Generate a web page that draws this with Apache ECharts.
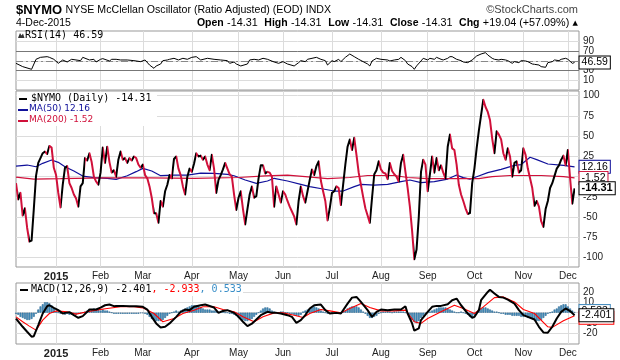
<!DOCTYPE html>
<html><head><meta charset="utf-8">
<script src="https://cdn.jsdelivr.net/npm/echarts@6/dist/echarts.min.js"></script>
<style>html,body{margin:0;padding:0;background:#fff}#c{width:620px;height:360px}</style>
</head><body><div id="c"></div>
<script>
// ---------- categories (trading days) ----------
const startDate = '2014-12-05';
const endDate = '2015-12-04';
const holidays = ['2014-12-25','2015-01-01','2015-01-19','2015-02-16','2015-04-03','2015-05-25','2015-07-03','2015-09-07','2015-11-26'];
const monthNames = ['Jan','Feb','Mar','Apr','May','Jun','Jul','Aug','Sep','Oct','Nov','Dec'];

// ---------- series values ----------
const nymo = [-8,-28,-20,-48,-39,-63,-80,-79,-40,1,
 17,23,29,31,28,38,36,11,2,-20,
 -38,-10,11,13,-8,-14,-22,-27,-37,-12,
 -8,23,20,29,18,0,-6,-10,5,36,
 17,37,18,5,8,0,21,31,21,23,
 17,23,20,25,23,15,11,15,2,-2,
 -12,-26,-45,-45,-57,-30,-37,-18,-10,2,
 -2,22,25,10,2,-12,-22,0,10,6,
 16,29,25,26,21,25,15,8,27,10,
 -20,-4,2,9,17,10,3,0,-22,-41,
 -26,-18,-40,-59,-40,-22,-12,-26,-24,-2,
 14,14,4,6,5,0,-37,-12,-22,-32,
 -18,-22,-30,-37,-43,-49,-59,-30,-12,-24,
 -32,-18,-4,9,2,13,19,-5,-18,-30,
 -54,-39,-20,-18,-12,-14,-35,-10,15,37,
 46,33,48,27,5,-10,-25,-39,-48,-57,
 -26,3,8,19,9,5,4,-3,17,7,
 3,0,-6,17,27,6,-14,-37,-67,-102,
 -90,-50,6,21,15,-18,3,25,5,23,
 8,14,5,-2,37,52,35,33,15,-10,
 -22,-30,-39,-46,-45,-8,10,35,57,76,
 95,86,80,70,47,29,56,52,46,29,
 21,35,25,0,17,19,5,8,35,27,
 10,-2,-14,-36,-30,-37,-55,-62,-40,-30,
 -14,-8,1,10,14,21,26,14,33,-2,
 -33.35,-14.31];

// [trading-day index, value]
const ma50 = [[0,13],[5,14.4],[9,12.3],[12,16.5],[16,20.6],[19,17.7],[22,12.3],[26,7],[30,0.8],[35,-1.2],[41,-2],[45,-3.3],[50,1.2],[54,6.2],[57,10.3],[61,7],[65,1.2],[71,2],[77,2],[83,4.5],[89,4.1],[95,2.9],[98,1.2],[103,-4.1],[108,-8.2],[113,-5.3],[116,-2],[122,-5.3],[128,-9.5],[132,-12.3],[138,-15.2],[143,-17.7],[147,-17.7],[152,-12.3],[155,-9.5],[161,-10.3],[167,-9.5],[173,-6.2],[177,-4.1],[182,-7.4],[188,-6],[194,-2.9],[198,2],[201,-1.2],[204,-3],[207,0],[212,5],[218,9],[224,14],[227,15],[231,24],[234,21],[239,15.7],[246,14],[251,12.16]];
const ma200 = [[0,-0.5],[8,-3],[20,-2.5],[40,-1.5],[60,-1.5],[80,-2],[100,-1],[112,1],[122,2],[130,0],[140,-2.5],[150,-1],[158,1.5],[170,1.5],[176,-1],[185,-2.5],[200,-2.5],[208,-2.5],[214,0],[222,1.5],[236,1.5],[246,0],[251,-1.52]];
const rsi = [[0,44.9],[3,38],[7,32.4],[9,53.3],[11,57.4],[14,58.8],[15,57.4],[17,53.3],[19,44.9],[21,51.9],[23,47.7],[25,53.3],[29,50.5],[30,57.4],[33,51.9],[35,53.3],[36,47.7],[38,53.3],[39,54.7],[42,49.8],[43,53.3],[45,53.3],[47,51.9],[50,51.9],[53,50.5],[56,48.4],[58,51.9],[60,41.4],[62,34.5],[63,39.4],[65,43.5],[66,50.5],[68,51.9],[69,53.3],[71,55.4],[73,51.9],[75,55.4],[77,53.3],[79,57.4],[81,58.8],[83,51.9],[86,55.4],[89,53.3],[92,51.9],[95,50.5],[96,44.9],[98,47.7],[99,43.5],[101,39.4],[104,43.5],[105,51.9],[107,53.3],[109,51.9],[111,55.4],[113,53.3],[116,47.7],[118,44.9],[120,48.4],[122,43.5],[125,39.4],[127,46.3],[128,50.5],[130,48.4],[131,53.3],[135,57.4],[137,53.3],[139,50.5],[140,41.4],[142,50.5],[143,48.4],[145,53.3],[146,48.4],[148,57.4],[150,64.4],[152,58.8],[154,53.3],[156,48.4],[158,43.5],[159,39.4],[160,49.8],[162,55.4],[164,53.3],[167,51.9],[168,49.8],[170,51.9],[172,53.3],[173,57.4],[175,50.5],[176,43.5],[178,38],[179,32.4],[180,39.4],[182,49.8],[183,55.4],[185,51.9],[186,55.4],[188,53.3],[189,57.4],[191,53.3],[192,51.9],[194,55.4],[195,58.8],[196,58.8],[198,53.3],[200,50.5],[201,47.7],[203,46.3],[205,51.9],[207,60.2],[209,64.4],[211,67.2],[212,62.3],[214,55.4],[215,53.3],[217,51.9],[218,53.3],[220,51.9],[221,50.5],[223,44.9],[224,48.4],[226,46.3],[227,50.5],[229,49.8],[230,48.4],[232,43.5],[233,42.8],[235,41.4],[236,38],[238,36.6],[239,46.3],[241,48.4],[242,51.9],[244,50.5],[245,53.3],[247,55.4],[248,53.3],[250,44.9],[251,46.59]];
const macd = [[0,-5.6],[3,-13.5],[5,-18.3],[7,-23],[8,-22.5],[10,-11.9],[12,-0.8],[14,6.2],[15,7.1],[17,4.6],[19,2.4],[21,-0.8],[22,-0.2],[24,0.5],[26,-2.4],[28,-4.9],[30,-3.3],[32,0.8],[33,3],[36,3],[38,4.9],[40,7.1],[42,7.8],[44,6.2],[45,6.5],[48,6.5],[51,6.2],[54,6.2],[57,5.6],[59,3],[61,-4],[63,-10.3],[65,-14.1],[67,-13.5],[69,-10.3],[72,-4],[74,0.8],[76,3],[78,2.4],[80,5.6],[83,7.1],[85,7.8],[86,7.1],[89,4.9],[91,-0.2],[93,1.7],[95,2.4],[98,-0.2],[100,-4],[102,-8.7],[104,-12.9],[106,-10.6],[108,-6.5],[110,-2.4],[113,0.8],[115,-0.2],[117,-0.2],[119,-0.8],[122,-2.4],[124,-4],[126,-9.7],[128,-7.1],[130,-2.4],[132,4],[134,7.1],[137,7.8],[139,2.4],[141,-0.8],[144,-0.2],[146,-0.8],[149,8.7],[151,14.4],[153,15.1],[155,10.3],[158,2.4],[160,-4],[162,0.8],[164,3],[167,2.4],[170,3],[173,3],[175,6.2],[176,-0.8],[178,-10.3],[179,-17.3],[181,-15.1],[182,-7.1],[185,0.8],[187,5.6],[189,6.5],[191,6.5],[194,8.1],[196,11.9],[198,13.5],[200,7.1],[203,-0.8],[205,-4.9],[206,-4],[208,2.4],[209,11.9],[212,19.8],[213,22],[215,18.3],[217,15.1],[219,14.4],[221,12.5],[224,8.7],[226,2.4],[228,-2.4],[230,-4],[233,-6.5],[235,-13.5],[237,-18.9],[239,-19.2],[241,-13.5],[243,-5.6],[245,0.8],[247,4],[249,1.5],[251,-2.401]];
const signal = [[0,-4],[3,-8.7],[6,-12.9],[9,-16.7],[12,-7.1],[15,-0.8],[18,1.7],[23,0.8],[27,-1.4],[32,0.8],[36,2.4],[41,4],[47,5.6],[53,5.6],[57,4.6],[62,-0.8],[66,-8.7],[71,-5.6],[75,-0.8],[80,2.4],[84,5.6],[89,5.6],[93,3],[98,0.8],[102,-4],[107,-8.7],[111,-4],[116,-0.2],[120,-0.2],[125,-2.4],[129,-4.6],[132,-0.8],[137,3],[141,1.7],[146,-0.2],[150,4],[155,8.7],[159,4.9],[164,1.7],[170,1.7],[175,2.4],[179,-8.7],[182,-10.3],[185,-5.6],[191,0.8],[197,7.1],[201,4],[206,-0.8],[210,5.6],[215,14.4],[219,15.1],[224,10.3],[228,3],[233,-0.8],[239,-13.5],[241,-14.1],[246,-7.8],[251,-2.933]];
const hist = [-1,-2,-4,-5,-6,-7,-7,-6,-4,
 -1,3,6,8,10,10,9,7,4,1,
 0,-1,-1,-2,-1,-2,-2,-1,-2,-1,-1,0,
 1,2,3,3,4,3,3,2,3,2,2,1,
 0,-1,-1,-1,-1,-1,-1,-1,-1,-1,-1,-1,-1,-0.5,-0.5,
 -1,-2,-4,-6,-7,-8,-8,-8,-7,-5,-3,
 -1,0,1,2,1,2,
 3,4,5,6,7,7,7,6,5,4,3,3,
 3,2,2,2,1,1,1,0,0,-1,-1,
 -2,-3,-5,-6,-7,-8,-8,-7,-6,-4,-2,
 0,2,4,5,5,4,2,
 1,0,0,1,1,0,0,-1,-1,
 -2,-3,-3,-2,
 1,2,3,4,5,6,5,4,
 2,1,0,-1,-1,0,-1,-1,0,0,1,
 2,4,5,6,6,6,5,3,1,-1,
 -3,-5,-5,-4,-3,-1,
 0,1,1,1,1,0,1,1,1,1,1,0,-1,-3,
 -7,-9,-10,-8,-5,
 -3,-1,0,1,2,
 3,4,5,5,5,5,4,3,2,1,
 0,0,1,0,-1,-2,
 -4,-4,-2,
 1,3,4,5,5,4,3,2,
 1,1,0,
 -1,-1,-2,-2,-2,-3,-3,-3,-3,-4,-4,-4,-5,-5,-6,-7,-8,-8,
 -7,-5,-3,-1,0,
 1,3,4,6,7,8,8,6,4,
 2,0.533];

// ---------- tick labels ----------
const rsiTicks = [10,30,50,70,90];
const mainTicks = [-100,-75,-50,-25,0,25,50,75,100];
const macdTicks = [-20,-10,0,10,20];

// ---------- build ----------
function tradingDays(){
  const out=[]; let d=new Date(startDate+'T00:00:00Z'); const end=new Date(endDate+'T00:00:00Z');
  while(d<=end){
    const dow=d.getUTCDay(); const s=d.toISOString().slice(0,10);
    if(dow!==0 && dow!==6 && holidays.indexOf(s)<0) out.push(s);
    d=new Date(d.getTime()+86400000);
  }
  return out;
}
const dates = tradingDays();
const categories = dates.concat(['','']);
const monthStart = categories.map((s,i)=> i>0 && !!s && !!categories[i-1] && s.slice(5,7)!==categories[i-1].slice(5,7));
function fmtMonth(v){ if(!v) return ''; const m=+v.slice(5,7); return m===1 ? '{b|'+v.slice(0,4)+'}' : monthNames[m-1]; }

const nymoData = nymo.map((v,i)=>[i,v]);
const pieces = [];
for(let i=0;i<nymo.length-1;i++){
  const p = {gte:i, color: nymo[i+1]>=nymo[i] ? '#000000' : '#d0103a'};
  if(i===nymo.length-2) p.lte=i+1; else p.lt=i+1;
  pieces.push(p);
}

function xAx(gi, showLabel){
  return {type:'category', gridIndex:gi, data:categories, boundaryGap:false,
    axisLine:{show:false}, axisTick:{show:false},
    axisLabel:{show:showLabel, interval:(i)=>monthStart[i], formatter:fmtMonth, fontSize:10, fontFamily:'Arial', color:'#222', margin:4,
      rich:{b:{fontWeight:'bold', fontSize:11, fontFamily:'Arial', color:'#222'}}},
    splitLine:{show:true, interval:(i)=>monthStart[i], lineStyle:{color:'#dcdcdc'}}};
}
function yAx(gi, min, max, ticks){
  // min/max placeholders are hidden so every real tick label stays visible
  const labelVals = [min].concat(ticks, [max]);
  return {type:'value', gridIndex:gi, position:'right', min:min, max:max,
    axisLine:{show:false}, axisTick:{show:false, customValues:ticks},
    axisLabel:{customValues:labelVals, showMinLabel:false, showMaxLabel:false, fontSize:10, fontFamily:'Arial', color:'#222', margin:4},
    splitLine:{show:true, lineStyle:{color:'#dcdcdc'}}};
}
function box(text, color, bold, dy){
  return {show:true, formatter:text, distance:5, offset:[0,dy||0], color:'#000', fontSize:bold?11:10.5, fontWeight:bold?'bold':'normal', fontFamily:'Arial',
    backgroundColor:'#fff', borderColor:color, borderWidth:1, padding:[1,2,0,2]};
}

const option = {
  animation:false,
  backgroundColor:'#fff',
  grid:[
    {left:16, top:31, width:563, height:59, show:true, borderColor:'#999', borderWidth:1},
    {left:16, top:91, width:563, height:176, show:true, borderColor:'#999', borderWidth:1},
    {left:16, top:283, width:563, height:61, show:true, borderColor:'#999', borderWidth:1}
  ],
  xAxis:[xAx(0,false), xAx(1,true), xAx(2,true)],
  yAxis:[yAx(0,-10.8,112.4,rsiTicks), yAx(1,-111.5,105.8,mainTicks), yAx(2,-30,28.4,macdTicks)],
  visualMap:[{type:'piecewise', show:false, dimension:0, seriesIndex:1, pieces:pieces}],
  series:[
    {type:'line', xAxisIndex:0, yAxisIndex:0, data:rsi, symbol:'none', lineStyle:{color:'#000', width:1}, itemStyle:{color:'#000'}, z:5,
      endLabel:box('46.59','#000',false,0),
      markLine:{silent:true, symbol:'none', label:{show:false}, animation:false,
        data:[{yAxis:70, lineStyle:{color:'#777', type:'solid', width:1}},{yAxis:30, lineStyle:{color:'#777', type:'solid', width:1}},{yAxis:50, lineStyle:{color:'#888', type:[7,3,2,3], width:1}}]}},
    {type:'line', xAxisIndex:1, yAxisIndex:1, data:nymoData, symbol:'none', lineStyle:{width:2, join:'round'}, z:6,
      endLabel:box('-14.31','#000',true,0)},
    {type:'line', xAxisIndex:1, yAxisIndex:1, data:ma50, symbol:'none', lineStyle:{color:'#10109a', width:1.2}, itemStyle:{color:'#10109a'}, z:4,
      endLabel:box('12.16','#10109a',false,0)},
    {type:'line', xAxisIndex:1, yAxisIndex:1, data:ma200, symbol:'none', lineStyle:{color:'#d0103a', width:1.2}, itemStyle:{color:'#d0103a'}, z:4,
      endLabel:box('-1.52','#d0103a',false,0)},
    {type:'bar', xAxisIndex:2, yAxisIndex:2, data:hist, barWidth:'85%', itemStyle:{color:'#4d98c6', borderColor:'#1d5a86', borderWidth:0.5}, z:3},
    {type:'line', xAxisIndex:2, yAxisIndex:2, data:[[251,0.533]], symbol:'none', lineStyle:{opacity:0}, z:3,
      endLabel:box('0.533','#4a8fc0',false,-1)},
    {type:'line', xAxisIndex:2, yAxisIndex:2, data:signal, symbol:'none', lineStyle:{color:'#ff0000', width:1.1}, itemStyle:{color:'#ff0000'}, z:4,
      endLabel:box('-2.933','#ff0000',false,2)},
    {type:'line', xAxisIndex:2, yAxisIndex:2, data:macd, symbol:'none', lineStyle:{color:'#000', width:2}, itemStyle:{color:'#000'}, z:6,
      endLabel:box('-2.401','#000',false,0)}
  ],
  graphic:[
    {type:'text', left:16, top:4, z:20, style:{text:'{a|$NYMO} {b|NYSE McClellan Oscillator (Ratio Adjusted) (EOD) INDX}',
      rich:{a:{fontSize:13, fontWeight:'bold', fontFamily:'Arial', fill:'#000'}, b:{fontSize:10.6, fontFamily:'Arial', fill:'#000'}}}},
    {type:'text', right:42, top:4, z:20, style:{text:'©StockCharts.com', fontSize:11, fontFamily:'Arial', fill:'#444'}},
    {type:'text', left:16, top:18, z:20, style:{text:'4-Dec-2015', fontSize:10.5, fontFamily:'Arial', fill:'#000'}},
    {type:'text', right:42, top:17, z:20, style:{text:'{l|Open} {v|-14.31}  {l|High} {v|-14.31}  {l|Low} {v|-14.31}  {l|Close} {v|-14.31}  {l|Chg} {v|+19.04 (+57.09%)} {t|▲}',
      rich:{l:{fontSize:10.5, fontWeight:'bold', fontFamily:'Arial', fill:'#000'}, v:{fontSize:10.8, fontFamily:'Arial', fill:'#000'}, t:{fontSize:7, fontFamily:'DejaVu Sans', fill:'#000'}}}},
    // RSI title
    {type:'polygon', z:20, shape:{points:[[18,38],[20,33],[21.5,35.5],[23,33.5],[24.5,38]]}, style:{fill:'#333'}},
    {type:'text', left:25, top:30, z:20, style:{text:'RSI(14) 46.59', fontSize:10, fontFamily:'DejaVu Sans Mono', fill:'#000'}},
    // main legend
    {type:'rect', z:15, shape:{x:17, y:92, width:140, height:34}, style:{fill:'#fff'}},
    {type:'line', z:20, shape:{x1:19, y1:99, x2:27, y2:99}, style:{stroke:'#000', lineWidth:2}},
    {type:'text', left:31, top:93, z:20, style:{text:'$NYMO (Daily) -14.31', fontSize:10, fontFamily:'DejaVu Sans Mono', fill:'#000'}},
    {type:'line', z:20, shape:{x1:18, y1:110, x2:28, y2:110}, style:{stroke:'#10109a', lineWidth:2}},
    {type:'text', left:29, top:104.5, z:20, style:{text:'MA(50) 12.16', fontSize:9, fontFamily:'DejaVu Sans', fill:'#10109a'}},
    {type:'line', z:20, shape:{x1:18, y1:121, x2:28, y2:121}, style:{stroke:'#d0103a', lineWidth:2}},
    {type:'text', left:29, top:115.5, z:20, style:{text:'MA(200) -1.52', fontSize:9, fontFamily:'DejaVu Sans', fill:'#d0103a'}},
    // MACD legend
    {type:'rect', z:15, shape:{x:17, y:284, width:226, height:12}, style:{fill:'#fff'}},
    {type:'line', z:20, shape:{x1:20, y1:290, x2:28, y2:290}, style:{stroke:'#000', lineWidth:2}},
    {type:'text', left:31, top:284, z:20, style:{text:'{k|MACD(12,26,9) -2.401}{r|, -2.933}{s|, 0.533}',
      rich:{k:{fontSize:10, fontFamily:'DejaVu Sans Mono', fill:'#000'}, r:{fontSize:10, fontFamily:'DejaVu Sans Mono', fill:'#ff0000'}, s:{fontSize:10, fontFamily:'DejaVu Sans Mono', fill:'#3a8fc8'}}}}
  ]
};
const chart = echarts.init(document.getElementById('c'), null, {width:620, height:360});
chart.setOption(option);
</script>
</body></html>
